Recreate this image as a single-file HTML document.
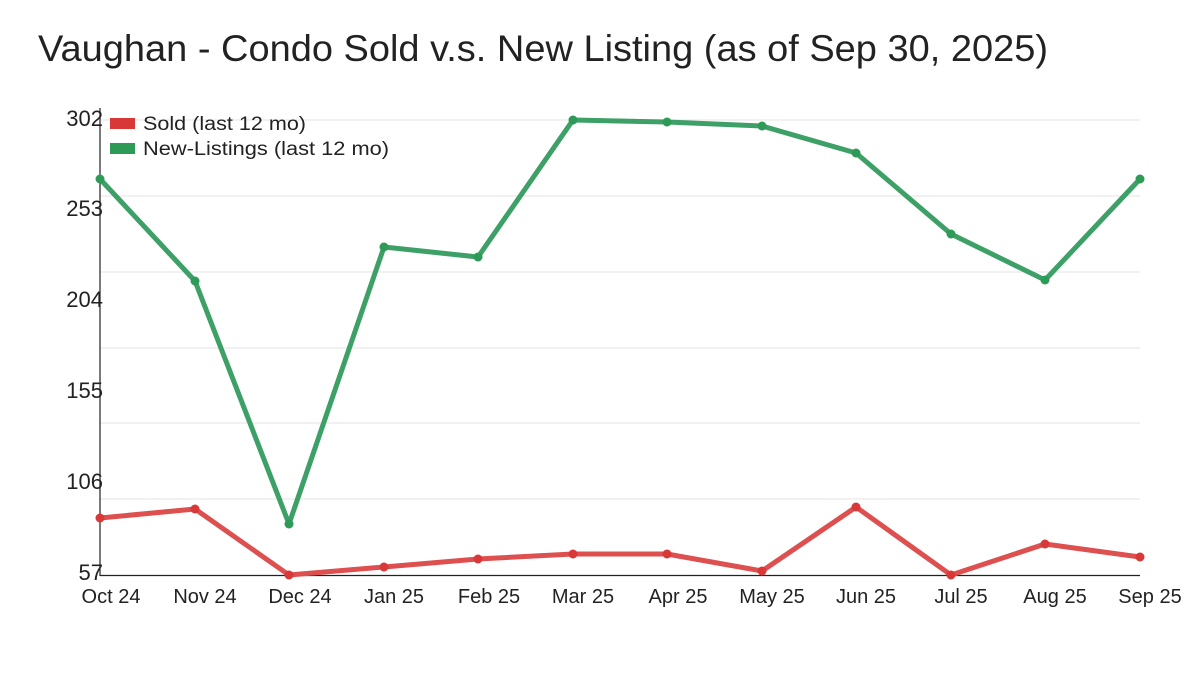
<!DOCTYPE html>
<html><head><meta charset="utf-8"><style>
html,body{margin:0;padding:0;background:#fff;width:1200px;height:675px;overflow:hidden}
svg text{font-family:"Liberation Sans","DejaVu Sans",sans-serif;fill:#222}
</style></head><body>
<svg width="1200" height="675" viewBox="0 0 1200 675">
<text x="38" y="61" font-size="37" textLength="1010" lengthAdjust="spacingAndGlyphs">Vaughan - Condo Sold v.s. New Listing (as of Sep 30, 2025)</text>
<g stroke="#e3e3e3" stroke-width="1">
<line x1="100" x2="1140" y1="120" y2="120"/><line x1="100" x2="1140" y1="196" y2="196"/>
<line x1="100" x2="1140" y1="272" y2="272"/><line x1="100" x2="1140" y1="348" y2="348"/>
<line x1="100" x2="1140" y1="423" y2="423"/><line x1="100" x2="1140" y1="499" y2="499"/>
</g>
<line x1="100" x2="100" y1="108" y2="576" stroke="#222" stroke-width="1.2"/>
<line x1="100" x2="1140" y1="575.5" y2="575.5" stroke="#222" stroke-width="1.2"/>
<g font-size="22" text-anchor="end">
<text x="103" y="126">302</text><text x="103" y="216">253</text><text x="103" y="307">204</text>
<text x="103" y="398">155</text><text x="103" y="489">106</text><text x="103" y="580">57</text>
</g>
<g font-size="20" text-anchor="middle">
<text x="111" y="603">Oct 24</text><text x="205" y="603">Nov 24</text><text x="300" y="603">Dec 24</text>
<text x="394" y="603">Jan 25</text><text x="489" y="603">Feb 25</text><text x="583" y="603">Mar 25</text>
<text x="678" y="603">Apr 25</text><text x="772" y="603">May 25</text><text x="866" y="603">Jun 25</text>
<text x="961" y="603">Jul 25</text><text x="1055" y="603">Aug 25</text><text x="1150" y="603">Sep 25</text>
</g>
<polyline fill="none" stroke="#3da066" stroke-width="5" stroke-linejoin="round" points="100,179 195,281 289,524 384,247 478,257 573,120 667,122 762,126 856,153 951,234 1045,280 1140,179"/>
<g fill="#2e9a57">
<circle cx="100" cy="179" r="4.5"/><circle cx="195" cy="281" r="4.5"/><circle cx="289" cy="524" r="4.5"/><circle cx="384" cy="247" r="4.5"/><circle cx="478" cy="257" r="4.5"/><circle cx="573" cy="120" r="4.5"/><circle cx="667" cy="122" r="4.5"/><circle cx="762" cy="126" r="4.5"/><circle cx="856" cy="153" r="4.5"/><circle cx="951" cy="234" r="4.5"/><circle cx="1045" cy="280" r="4.5"/><circle cx="1140" cy="179" r="4.5"/>
</g>
<polyline fill="none" stroke="#de4f4f" stroke-width="5" stroke-linejoin="round" points="100,518 195,509 289,575 384,567 478,559 573,554 667,554 762,571 856,507 951,575 1045,544 1140,557"/>
<g fill="#d93838">
<circle cx="100" cy="518" r="4.5"/><circle cx="195" cy="509" r="4.5"/><circle cx="289" cy="575" r="4.5"/><circle cx="384" cy="567" r="4.5"/><circle cx="478" cy="559" r="4.5"/><circle cx="573" cy="554" r="4.5"/><circle cx="667" cy="554" r="4.5"/><circle cx="762" cy="571" r="4.5"/><circle cx="856" cy="507" r="4.5"/><circle cx="951" cy="575" r="4.5"/><circle cx="1045" cy="544" r="4.5"/><circle cx="1140" cy="557" r="4.5"/>
</g>
<rect x="110" y="118" width="25" height="11" fill="#d93838"/>
<rect x="110" y="143" width="25" height="11" fill="#2e9a57"/>
<text x="143" y="130" font-size="19" textLength="163" lengthAdjust="spacingAndGlyphs">Sold (last 12 mo)</text>
<text x="143" y="155" font-size="19" textLength="246" lengthAdjust="spacingAndGlyphs">New-Listings (last 12 mo)</text>
</svg>
</body></html>
